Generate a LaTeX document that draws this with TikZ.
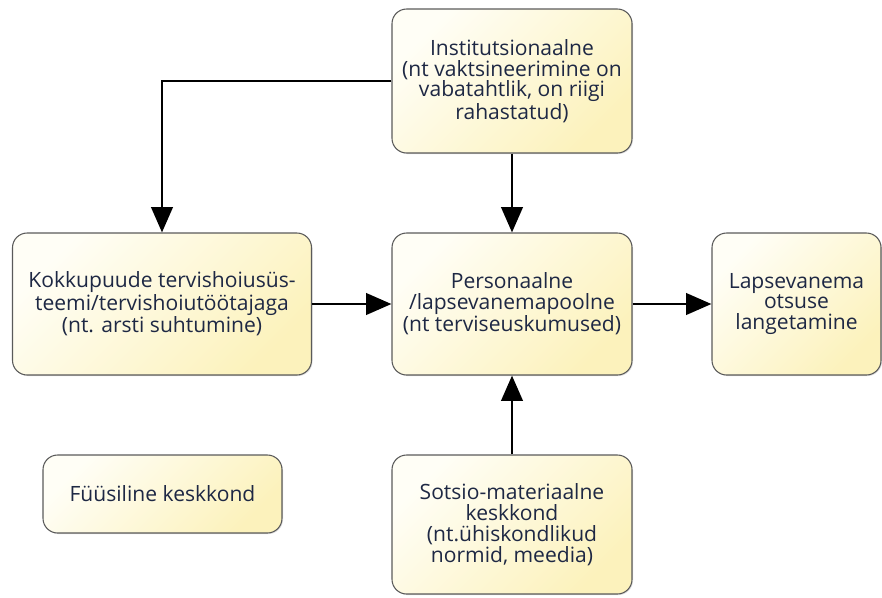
\documentclass[tikz,border=0pt]{standalone}
\usepackage{fontspec}
\setmainfont{Open Sans}
\usepackage{tikz}
\usetikzlibrary{arrows.meta,shadows}
\definecolor{boxtext}{HTML}{1E2844}
\definecolor{boxlight}{HTML}{FFFEF6}
\definecolor{boxdark}{HTML}{FCF2BC}
\definecolor{boxedge}{HTML}{5A5A5A}

\begin{document}
\begin{tikzpicture}[x=0.75pt,y=0.75pt,yscale=-1,xscale=1,
        factor/.style={draw=boxedge,line width=0.8pt,rounded corners=11pt,
            left color=boxlight,right color=boxdark,shading angle=45,
            drop shadow={opacity=0.25,shadow xshift=0.8pt,shadow yshift=-0.8pt},
            align=center,text=boxtext,inner sep=2pt,
            font=\fontsize{15.8pt}{15.6pt}\selectfont},
        link/.style={line width=2.2pt,-{Triangle[length=19pt,width=16pt]}}]
        \useasboundingbox (0,0) rectangle (882,597);

        \node (inst)  [factor,minimum width=180pt,minimum height=108pt]    at (512,81)    {Institutsionaalne\\(nt vaktsineerimine on\\vabatahtlik, on riigi\\rahastatud)};
        \node (kokku) [factor,minimum width=224.25pt,minimum height=106.5pt] at (162,304)  {Kokkupuude tervishoiusüs-\\teemi/tervishoiutöötajaga\\(nt. arsti suhtumine)};
        \node (pers)  [factor,minimum width=180pt,minimum height=106.5pt]  at (512,304)   {Personaalne\\/lapsevanemapoolne\\(nt terviseuskumused)};
        \node (otsus) [factor,minimum width=126.75pt,minimum height=106.5pt] at (796.5,304) {Lapsevanema\\otsuse\\langetamine};
        \node (fyys)  [factor,minimum width=179.25pt,minimum height=58.5pt] at (162.5,494) {Füüsiline keskkond};
        \node (sots)  [factor,minimum width=180pt,minimum height=104.25pt] at (512,524.5) {Sotsio-materiaalne\\keskkond\\(nt.ühiskondlikud\\normid, meedia)};

        \draw [link] (inst.west) -| (kokku.north);
        \draw [link] (inst) -- (pers);
        \draw [link] (kokku) -- (pers);
        \draw [link] (pers) -- (otsus);
        \draw [link] (sots) -- (pers);
\end{tikzpicture}
\end{document}
